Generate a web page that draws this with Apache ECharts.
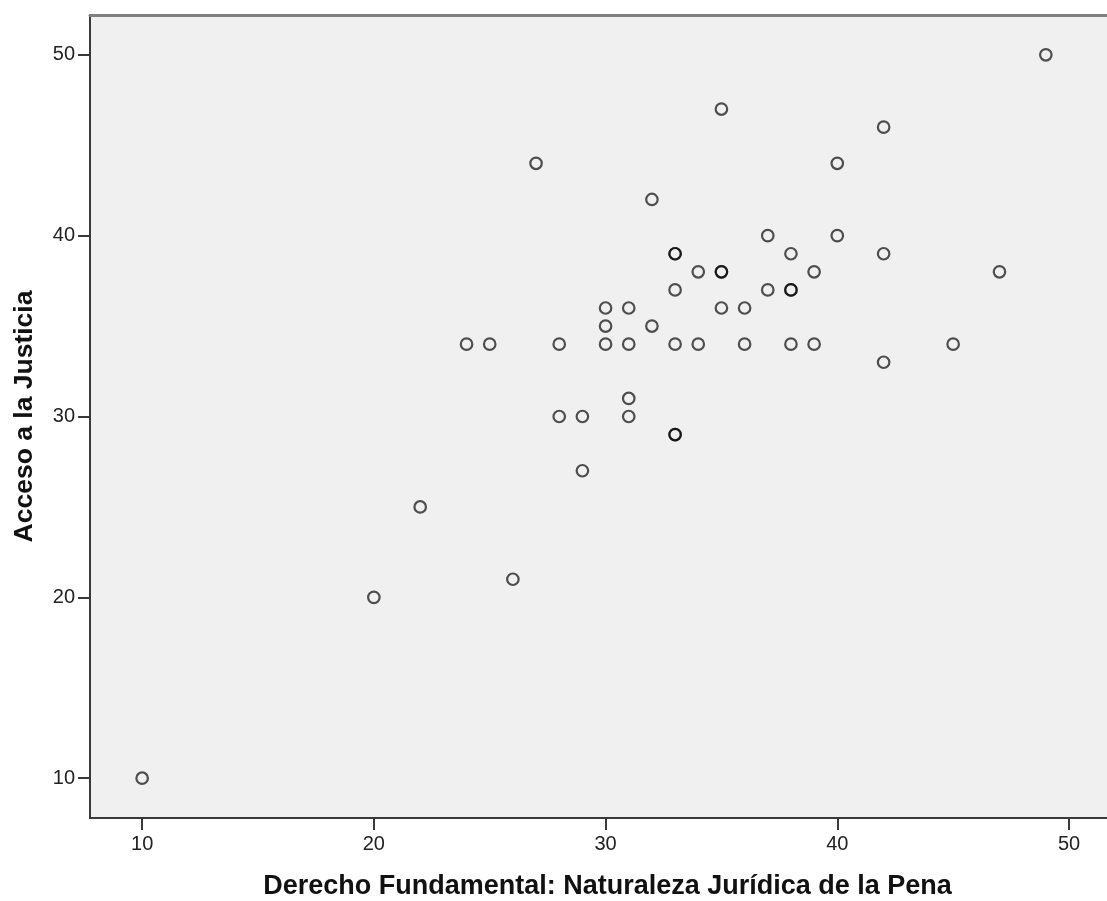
<!DOCTYPE html>
<html>
<head>
<meta charset="utf-8">
<script src="https://cdn.jsdelivr.net/npm/echarts@6/dist/echarts.min.js"></script>
<style>
html,body{margin:0;padding:0;background:#ffffff;}
#chart{width:1107px;height:901px;}
</style>
</head>
<body>
<div id="chart"></div>
<script>
// Data
var xValues = [10,20,22,26,24,25,27,28,28,29,29,30,30,30,31,31,31,31,32,32,33,33,33,33,33,33,34,34,35,35,35,35,36,36,37,37,38,38,38,38,39,39,40,40,42,42,42,45,47,49];
var yValues = [10,20,25,21,34,34,44,34,30,30,27,36,35,34,36,34,31,30,42,35,39,39,37,34,29,29,38,34,47,38,38,36,36,34,40,37,39,37,37,34,38,34,44,40,46,39,33,34,38,50];
var xTicks = [10,20,30,40,50];
var yTicks = [10,20,30,40,50];
var xTitle = 'Derecho Fundamental: Naturaleza Jurídica de la Pena';
var yTitle = 'Acceso a la Justicia';

var points = xValues.map(function (x, i) { return [x, yValues[i]]; });

var FONT = "'Liberation Sans', Arial, sans-serif";
var chart = echarts.init(document.getElementById('chart'), null, {renderer: 'canvas'});
chart.setOption({
  animation: false,
  backgroundColor: '#ffffff',
  grid: {
    left: 90, top: 15, right: 0, bottom: 83,
    outerBoundsMode: 'none',
    containLabel: false,
    show: true, backgroundColor: '#f0f0f0', borderWidth: 0
  },
  xAxis: [{
    type: 'value',
    min: 7.75, max: 51.64,
    position: 'bottom',
    name: xTitle,
    nameLocation: 'middle',
    nameGap: 55,
    nameTextStyle: {fontFamily: FONT, fontSize: 27, fontWeight: 'bold', color: '#111', padding: [0, 0, 0, 18]},
    axisLine: {show: true, onZero: false, lineStyle: {color: '#3a3a3a', width: 2}},
    axisTick: {show: true, length: 12, customValues: xTicks, lineStyle: {color: '#3a3a3a', width: 2}},
    axisLabel: {show: true, margin: 16, customValues: xTicks, fontFamily: FONT, fontSize: 20, color: '#222'},
    splitLine: {show: false}
  }, {
    type: 'value',
    min: 7.75, max: 51.64,
    position: 'top',
    axisLine: {show: true, onZero: false, lineStyle: {color: '#808080', width: 3}},
    axisTick: {show: false},
    axisLabel: {show: false},
    splitLine: {show: false}
  }],
  yAxis: {
    type: 'value',
    min: 7.8, max: 52.2,
    name: yTitle,
    nameLocation: 'middle',
    nameRotate: 90,
    nameGap: 52,
    nameTextStyle: {fontFamily: FONT, fontSize: 26.5, fontWeight: 'bold', color: '#111'},
    axisLine: {show: true, onZero: false, lineStyle: {color: '#3a3a3a', width: 2}},
    axisTick: {show: true, length: 12, customValues: yTicks, lineStyle: {color: '#3a3a3a', width: 2}},
    axisLabel: {show: true, margin: 15, customValues: yTicks, fontFamily: FONT, fontSize: 20, color: '#222'},
    splitLine: {show: false}
  },
  series: [{
    type: 'scatter',
    xAxisIndex: 0,
    data: points,
    symbol: 'circle',
    symbolSize: 11.5,
    itemStyle: {color: 'rgba(0,0,0,0)', borderColor: 'rgba(0,0,0,0.68)', borderWidth: 2.2, opacity: 1},
    emphasis: {disabled: true},
    silent: true
  }]
});
</script>
</body>
</html>
